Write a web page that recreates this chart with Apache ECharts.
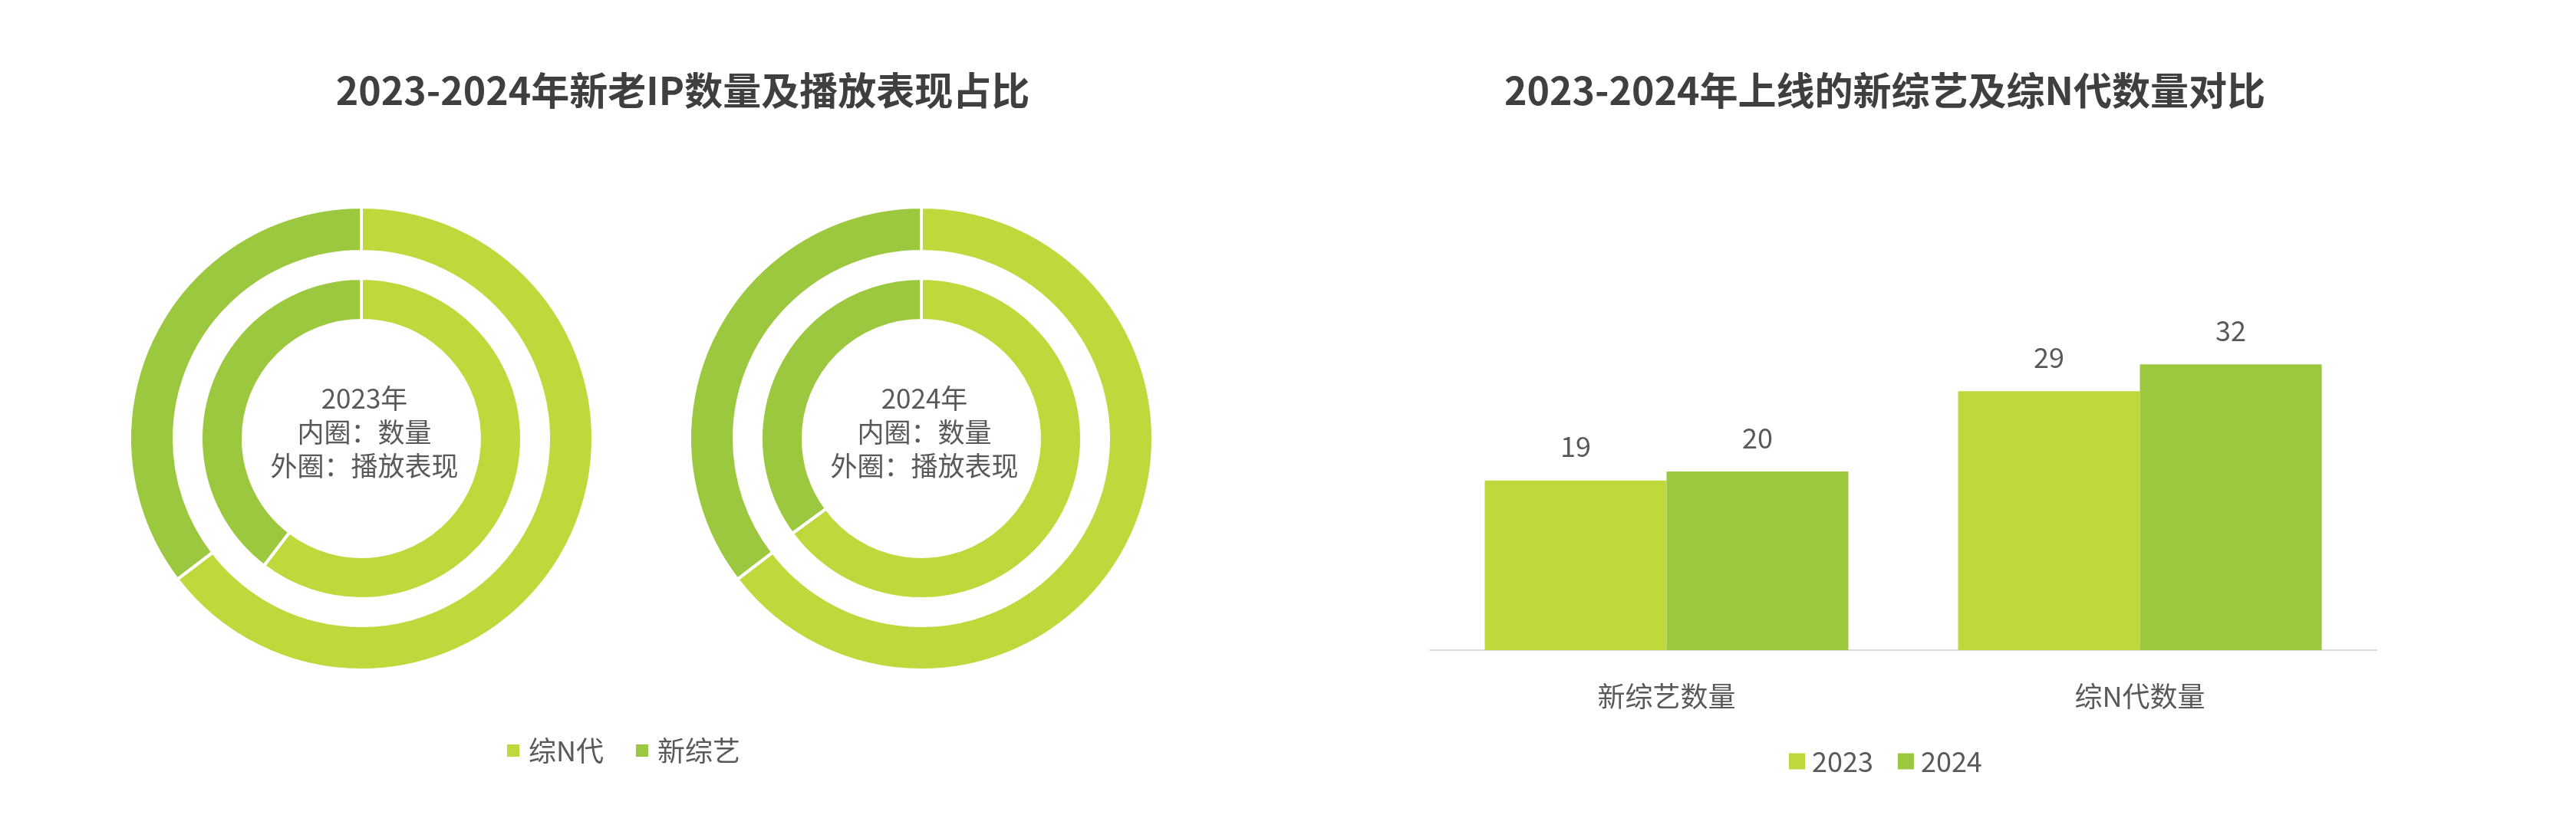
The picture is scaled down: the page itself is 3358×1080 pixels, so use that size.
<!DOCTYPE html>
<html>
<head>
<meta charset="utf-8">
<style>
html,body{margin:0;padding:0;background:#ffffff;}
#chart{width:3358px;height:1080px;}
</style>
<script src="https://cdn.jsdelivr.net/npm/echarts@6/dist/echarts.min.js"></script>
</head>
<body>
<div id="chart"></div>
<script>
// ---- data ----
const pieNames = ['综N代', '新综艺'];
const inner2023 = [60.4, 39.6];   // 内圈：数量
const outer2023 = [64.6, 35.4];   // 外圈：播放表现
const inner2024 = [64.9, 35.1];
const outer2024 = [64.6, 35.4];
const centerTexts = ['2023年\n内圈：数量\n外圈：播放表现', '2024年\n内圈：数量\n外圈：播放表现'];

const barCategories = ['新综艺数量', '综N代数量'];
const barYears = ['2023', '2024'];
const bar2023 = [19, 29];
const bar2024 = [20, 32];

const titleLeft = '2023-2024年新老IP数量及播放表现占比';
const titleRight = '2023-2024年上线的新综艺及综N代数量对比';

// ---- style ----
const LIGHT = '#BFD83B';
const DARK = '#9BC83F';
const FONT = '"Noto Sans CJK SC", "Noto Sans", sans-serif';
const TXT = '#595959';

function pieData(vals) {
  return vals.map((v, i) => ({ name: pieNames[i], value: v }));
}
function pieSeries(vals, cx, radius) {
  return {
    type: 'pie',
    center: [cx, 572],
    radius: radius,
    startAngle: 90,
    clockwise: true,
    silent: true,
    label: { show: false },
    labelLine: { show: false },
    itemStyle: { borderColor: '#ffffff', borderWidth: 4 },
    emphasis: { disabled: true },
    data: pieData(vals)
  };
}

const chart = echarts.init(document.getElementById('chart'));
chart.setOption({
  animation: false,
  backgroundColor: '#ffffff',
  color: [LIGHT, DARK],
  textStyle: { fontFamily: FONT },
  title: [
    { text: titleLeft, left: 885, top: 88, textAlign: 'center',
      textStyle: { fontFamily: FONT, fontSize: 50, fontWeight: 'bold', color: '#3F3F3F' } },
    { text: titleRight, left: 2452, top: 88, textAlign: 'center',
      textStyle: { fontFamily: FONT, fontSize: 50, fontWeight: 'bold', color: '#3F3F3F' } },
    { text: centerTexts[0], left: 470, top: 493, textAlign: 'center',
      textStyle: { fontFamily: FONT, fontSize: 35, fontWeight: 'normal', color: TXT, lineHeight: 44 } },
    { text: centerTexts[1], left: 1200, top: 493, textAlign: 'center',
      textStyle: { fontFamily: FONT, fontSize: 35, fontWeight: 'normal', color: TXT, lineHeight: 44 } }
  ],
  legend: [
    {
      data: pieNames,
      left: 654, top: 956,
      icon: 'rect', itemWidth: 18, itemHeight: 18, itemGap: 40,
      selectedMode: false,
      textStyle: { fontFamily: FONT, fontSize: 36, color: TXT, padding: [0, 0, 0, 6] }
    },
    {
      data: barYears,
      left: 2327, top: 970,
      icon: 'rect', itemWidth: 21, itemHeight: 21, itemGap: 32,
      selectedMode: false,
      textStyle: { fontFamily: FONT, fontSize: 36, color: TXT, padding: [0, 0, 0, 4] }
    }
  ],
  grid: { left: 1864, right: 260, top: 382, bottom: 232, containLabel: false },
  xAxis: {
    type: 'category',
    data: barCategories,
    axisLine: { show: true, lineStyle: { color: '#D9D9D9', width: 2 } },
    axisTick: { show: false },
    axisLabel: { margin: 42, fontFamily: FONT, fontSize: 36, color: TXT }
  },
  yAxis: {
    type: 'value', min: 0, max: 40, interval: 10,
    show: false,
    splitLine: { show: false }
  },
  series: [
    pieSeries(inner2023, 471, [154, 209]),
    pieSeries(outer2023, 471, [244, 302]),
    pieSeries(inner2024, 1201, [154, 209]),
    pieSeries(outer2024, 1201, [244, 302]),
    {
      name: barYears[0], type: 'bar', data: bar2023, barWidth: 237, barGap: '0%',
      itemStyle: { color: LIGHT }, silent: true,
      label: { show: true, position: 'top', distance: 26, fontFamily: FONT, fontSize: 36, color: TXT }
    },
    {
      name: barYears[1], type: 'bar', data: bar2024, barWidth: 237, barGap: '0%',
      itemStyle: { color: DARK }, silent: true,
      label: { show: true, position: 'top', distance: 26, fontFamily: FONT, fontSize: 36, color: TXT }
    }
  ]
});
</script>
</body>
</html>
